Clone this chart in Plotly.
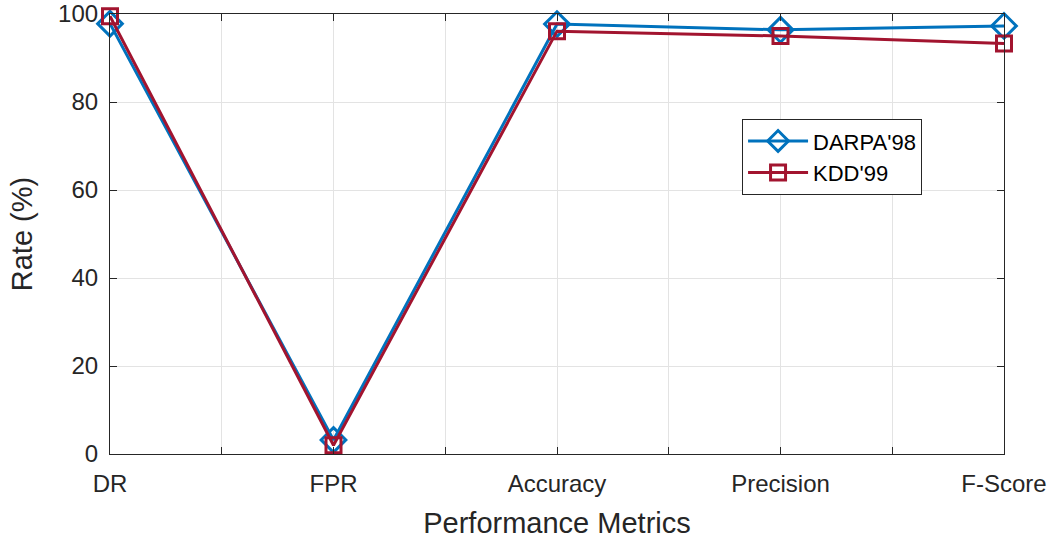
import plotly.graph_objects as go

categories = ["DR", "FPR", "Accuracy", "Precision", "F-Score"]
darpa98 = [97.8, 3.2, 97.7, 96.4, 97.3]
kdd99 = [99.5, 2.0, 96.1, 95.0, 93.3]

xpos = list(range(1, len(categories) + 1))
tickvals = []
ticktext = []
for i, c in enumerate(categories):
    tickvals.append(i + 1)
    ticktext.append(c)
    if i < len(categories) - 1:
        tickvals.append(i + 1.5)
        ticktext.append("")

FONT = "Liberation Sans, Arial, sans-serif"

fig = go.Figure()
fig.add_trace(go.Scatter(
    x=xpos, y=darpa98, name="DARPA'98", mode="lines+markers",
    line=dict(color="#0072BD", width=3),
    marker=dict(symbol="diamond-open", size=19, color="#0072BD",
                line=dict(width=3, color="#0072BD")),
    cliponaxis=False,
))
fig.add_trace(go.Scatter(
    x=xpos, y=kdd99, name="KDD'99", mode="lines+markers",
    line=dict(color="#A2142F", width=3),
    marker=dict(symbol="square-open", size=15, color="#A2142F",
                line=dict(width=3, color="#A2142F")),
    cliponaxis=False,
))

axis_common = dict(
    showline=True, linecolor="#262626", linewidth=1.2, mirror="allticks",
    ticks="inside", ticklen=7, tickcolor="#262626", tickwidth=1.2,
    showgrid=True, gridcolor="#e3e3e3", gridwidth=1, zeroline=False,
    tickfont=dict(family=FONT, size=24, color="#262626"),
    automargin=False,
)

fig.update_xaxes(
    range=[1, 5], tickvals=tickvals, ticktext=ticktext, ticklabelstandoff=8,
    title=dict(text="Performance Metrics", font=dict(family=FONT, size=29, color="#262626"), standoff=16),
    **axis_common,
)
fig.update_yaxes(
    range=[0, 100], tickvals=[0, 20, 40, 60, 80, 100], ticklabelstandoff=6,
    title=dict(text="Rate (%)", font=dict(family=FONT, size=29, color="#262626"), standoff=16),
    **axis_common,
)

fig.update_layout(
    width=1053, height=542,
    margin=dict(l=110, r=49, t=14, b=88),
    plot_bgcolor="white", paper_bgcolor="white",
    legend=dict(
        x=0.707, y=0.761, xanchor="left", yanchor="top",
        bgcolor="white", bordercolor="#262626", borderwidth=1,
        font=dict(family=FONT, size=22, color="#000000"),
        itemwidth=60, tracegroupgap=0,
    ),
    showlegend=True,
)

fig.write_html("out.html")
